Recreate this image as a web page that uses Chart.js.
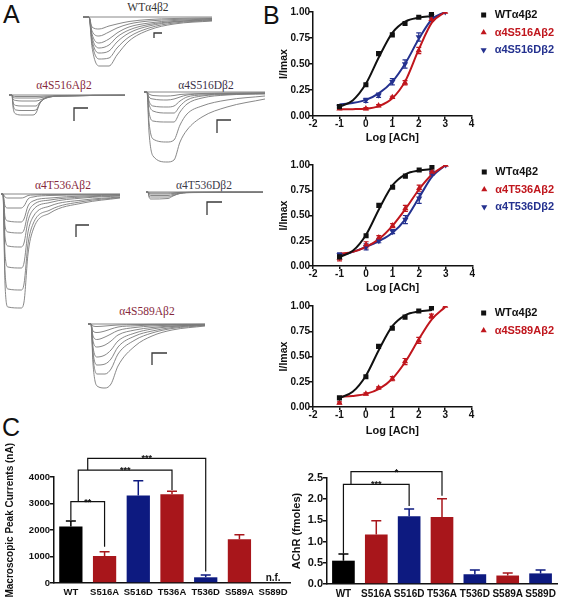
<!DOCTYPE html>
<html>
<head>
<meta charset="utf-8">
<title>α4β2 phosphosite mutants</title>
<script src="https://cdn.jsdelivr.net/npm/chart.js@4.4.1/dist/chart.umd.min.js"></script>
<style>
  html, body { margin: 0; padding: 0; background: #fff; }
  body { position: relative; width: 564px; height: 600px; overflow: hidden; font-family: "Liberation Sans", Arial, sans-serif; }
  canvas { position: absolute; }
  .letter { position: absolute; font-size: 25px; line-height: 25px; color: #111; }
  .tlab { position: absolute; font-family: "Liberation Serif", "Times New Roman", serif; font-size: 11.5px; line-height: 12px; white-space: nowrap; transform: translateX(-50%); }
  .mut { color: #86283c; }
</style>
</head>
<body>
<div class="letter" style="left:3px;top:2px">A</div>
<div class="letter" style="left:263px;top:3px">B</div>
<div class="letter" style="left:2px;top:415px">C</div>

<div class="tlab" style="left:148px;top:1px;color:#333">WTα4β2</div>
<div class="tlab mut" style="left:64px;top:79px">α4S516Aβ2</div>
<div class="tlab" style="left:206px;top:79px;color:#3b3148">α4S516Dβ2</div>
<div class="tlab mut" style="left:63px;top:179px">α4T536Aβ2</div>
<div class="tlab" style="left:204px;top:179px;color:#3b3b4a">α4T536Dβ2</div>
<div class="tlab mut" style="left:147px;top:305px">α4S589Aβ2</div>

<script>
/* ==========================================================================
   Data
   ========================================================================== */

// --- A: macroscopic current traces (time, current; inward = negative) ---
const wtTime = [-6, 0, 3, 10, 20, 28, 40, 60, 85, 123];
const wtTraces = [
  [0, 0, 0, 0, 0, 0, 0, 0, 0, 0],
  [0, 0, -10, -12, -9, -7, -4.5, -2.5, -1.5, -1],
  [0, 0, -14, -19, -15, -11, -7, -4, -2.5, -1.5],
  [0, 0, -17, -26, -22, -16, -10, -6, -3.5, -2],
  [0, 0, -20, -31, -28, -20, -13, -7.5, -4.5, -2.5],
  [0, 0, -23, -36, -34, -25, -16, -9, -5, -3],
  [0, 0, -26, -42, -41, -31, -20, -11, -6, -3.5],
  [0, 0, -30, -49, -49, -38, -24, -13, -7, -4]
];

const s516aTime = [-3, 0, 1, 4, 10, 20, 24, 28, 34, 50, 113];
const s516aTraces = [
  [0, 0, 0, 0, 0, 0, 0, 0, 0, 0, 0],
  [0, 0, -1, -1.5, -1.5, -1.5, -1.5, -1.4, -1, -0.5, -0.2],
  [0, 0, -2, -3, -3, -3, -3, -2.8, -1.8, -0.8, -0.2],
  [0, 0, -4, -5.5, -6, -6, -6, -5, -2.5, -1, -0.3],
  [0, 0, -7, -10.5, -11, -11, -11, -7, -3, -1, -0.3],
  [0, 0, -9, -15, -15.5, -15.5, -15, -8, -3, -1, -0.3],
  [0, 0, -12, -19, -20, -20, -18, -8, -3, -1, -0.3]
];

const s516dTime = [-3, 0, 2, 6, 20, 27, 33, 40, 55, 80, 118];
const s516dTraces = [
  [0, 0, 0, 0, 0, 0, 0, 0, 0, 0, 0],
  [0, 0, -2, -3.5, -4, -3.5, -2.5, -2, -1.5, -1, -0.8],
  [0, 0, -5, -7, -8, -7, -5, -3, -2, -1.5, -1],
  [0, 0, -9, -14, -15, -14, -9, -5, -3, -2, -1.2],
  [0, 0, -12, -19, -21, -21, -14, -8, -4, -2.5, -1.5],
  [0, 0, -20, -29, -30, -30, -20, -12, -6, -3, -2],
  [0, 0, -30, -47, -50, -48, -33, -22, -14, -8, -4],
  [0, 0, -40, -64, -70, -68, -50, -38, -25, -15, -7]
];

const t536aTime = [-2, 0, 2, 5, 18, 21, 25, 30, 47, 80, 117];
const t536aTraces = [
  [0, 0, 0, 0, 0, 0, 0, 0, 0, 0, 0],
  [0, 0, -3, -4, -4, -3.5, -1.5, -1, -0.6, -0.4, -0.3],
  [0, 0, -12, -14, -14, -12, -5, -3, -1.5, -1, -0.5],
  [0, 0, -23, -27, -28, -25, -12, -7, -4, -2, -1],
  [0, 0, -32, -38, -39, -36, -19, -11, -6, -3, -1.5],
  [0, 0, -43, -52, -53, -49, -27, -16, -8.5, -4, -2],
  [0, 0, -60, -73, -74, -69, -38, -23, -12, -6, -3],
  [0, 0, -78, -95, -96, -90, -50, -30, -16, -7.5, -3.5],
  [0, 0, -90, -113, -114, -108, -60, -36, -19, -9, -4]
];

const t536dTime = [-2, 0, 1, 3, 20, 25, 32, 45, 115];
const t536dTraces = [
  [0, 0, 0, 0, 0, 0, 0, 0, 0],
  [0, 0, -0.7, -1, -1, -0.8, -0.4, -0.2, -0.1],
  [0, 0, -1.5, -2, -2, -1.5, -0.8, -0.3, -0.1],
  [0, 0, -2.5, -3.5, -3.5, -2.5, -1, -0.4, -0.2],
  [0, 0, -4, -5, -5, -3.5, -1.3, -0.5, -0.2],
  [0, 0, -5, -7, -6.5, -4, -1.5, -0.6, -0.2]
];

const s589aTime = [-3, 0, 2, 6, 14, 20, 27, 44, 61, 81, 114];
const s589aTraces = [
  [0, 0, 0, 0, 0, 0, 0, 0, 0, 0, 0],
  [0, 0, -2, -2.5, -2, -1.5, -1, -0.6, -0.4, -0.3, -0.2],
  [0, 0, -7, -8.5, -7, -5, -3, -1.8, -1, -0.7, -0.4],
  [0, 0, -12, -15.5, -13, -10, -6.5, -3.5, -2, -1.2, -0.6],
  [0, 0, -17, -23, -21, -17, -11, -6, -3.5, -2, -0.8],
  [0, 0, -23, -33, -31, -26, -17, -9, -5, -2.5, -1],
  [0, 0, -28, -41, -40, -35, -23, -12, -7, -3.5, -1.2],
  [0, 0, -33, -50, -50, -45, -30, -16, -9, -4.5, -1.5],
  [0, 0, -40, -62, -64, -60, -42, -22, -12, -6, -2]
];

// --- B: ACh concentration-response (log ACh, I/Imax) ---
const logACh = [-1, 0, 0.48, 1, 1.48, 2, 2.48, 3];
const fitLog = [-1, -0.5, 0, 0.5, 1, 1.5, 2, 2.5, 3];

const wtResp = [0.09, 0.30, 0.60, 0.78, 0.89, 0.95, 0.98, null];
const wtErr  = [0, 0, 0, 0, 0, 0, 0, null];
const wtFit  = [0.09, 0.15, 0.31, 0.57, 0.80, 0.91, 0.945, 0.96, null];

const s516aResp = [0.07, 0.07, 0.10, 0.18, 0.32, 0.63, 0.93, 1.00];
const s516aErr  = [0, 0.01, 0.01, 0.01, 0.02, 0.03, 0.02, 0];
const s516aFit  = [0.065, 0.066, 0.07, 0.095, 0.17, 0.34, 0.64, 0.90, 1.00];

const s516dResp = [0.09, 0.15, 0.20, 0.33, 0.50, 0.76, 0.96, 1.00];
const s516dErr  = [0.01, 0.02, 0.02, 0.03, 0.04, 0.04, 0.02, 0];
const s516dFit  = [0.11, 0.125, 0.155, 0.22, 0.33, 0.51, 0.74, 0.93, 1.00];

const t536aResp = [0.08, 0.21, 0.28, 0.40, 0.57, 0.77, 0.93, 1.00];
const t536aErr  = [0.03, 0.03, 0.02, 0.02, 0.03, 0.03, 0.02, 0];
const t536aFit  = [0.12, 0.14, 0.19, 0.27, 0.40, 0.57, 0.76, 0.91, 1.00];

const t536dResp = [0.11, 0.19, 0.25, 0.34, 0.46, 0.67, 0.92, 1.00];
const t536dErr  = [0.02, 0.03, 0.02, 0.02, 0.04, 0.05, 0.02, 0];
const t536dFit  = [0.10, 0.14, 0.19, 0.25, 0.33, 0.47, 0.68, 0.89, 1.00];

const s589aResp = [0.04, 0.13, 0.19, 0.28, 0.45, 0.66, 0.90, 1.00];
const s589aErr  = [0.01, 0.01, 0.01, 0.02, 0.03, 0.03, 0.02, 0];
const s589aFit  = [0.10, 0.11, 0.13, 0.18, 0.28, 0.45, 0.67, 0.87, 0.99];

// --- C: peak currents and surface receptor ---
const mutants = ['WT', 'S516A', 'S516D', 'T536A', 'T536D', 'S589A', 'S589D'];
const peakCurrent    = [2130, 1020, 3300, 3350, 215, 1650, null];   // S589D: n.f.
const peakCurrentErr = [210, 160, 560, 110, 85, 170, null];
const achrFmol = [0.55, 1.17, 1.60, 1.58, 0.23, 0.20, 0.25];
const achrErr  = [0.16, 0.32, 0.17, 0.43, 0.10, 0.06, 0.08];

/* ==========================================================================
   Styles / helpers
   ========================================================================== */
const SANS = '"Liberation Sans", Arial, sans-serif';
const INK = '#111';
const RED = '#c0161d', BLUE = '#24318f';
const BAR_RED = '#a8161b', BAR_BLUE = '#0d1a80';
const barColors = ['#000', BAR_RED, BAR_BLUE, BAR_RED, BAR_BLUE, BAR_RED, BAR_BLUE];

Chart.defaults.font.family = SANS;
Chart.defaults.color = INK;

function makeCanvas(box) {
  const cv = document.createElement('canvas');
  cv.width = box.w; cv.height = box.h;
  cv.style.left = box.left + 'px'; cv.style.top = box.top + 'px';
  cv.style.width = box.w + 'px'; cv.style.height = box.h + 'px';
  document.body.appendChild(cv);
  return cv;
}

const baseOpts = { responsive: false, animation: false, devicePixelRatio: 1, events: [] };

/* --- A: trace panels (scale: 1 unit = 1 px, x0/base = page spot of t=0 / zero current) --- */
function traceChart(time, traces, box) {
  const xmin = box.left - box.x0, ymax = box.base - box.top;
  const datasets = traces.map(tr => ({
    data: time.map((t, i) => ({ x: t, y: tr[i] })),
    showLine: true, pointRadius: 0, borderColor: '#7b7b7b', borderWidth: 0.9,
    cubicInterpolationMode: 'monotone', clip: false
  }));
  // L-shaped calibration bar
  datasets.push({
    data: box.bar.map(p => ({ x: p[0], y: p[1] })),
    showLine: true, pointRadius: 0, borderColor: '#3a3a3a', borderWidth: 1.3, tension: 0, clip: false
  });
  new Chart(makeCanvas(box), {
    type: 'scatter',
    data: { datasets },
    options: { ...baseOpts, layout: { padding: 0 },
      plugins: { legend: { display: false }, tooltip: { enabled: false } },
      scales: {
        x: { type: 'linear', display: false, min: xmin, max: xmin + box.w },
        y: { type: 'linear', display: false, min: ymax - box.h, max: ymax }
      } }
  });
}

traceChart(wtTime, wtTraces,       { left: 80, top: 10, w: 140, h: 65, x0: 89, base: 17, bar: [[73, -16], [65, -16], [65, -21]] });
traceChart(s516aTime, s516aTraces, { left: 5, top: 88, w: 125, h: 40, x0: 12, base: 95, bar: [[76, -13], [62, -13], [62, -26]] });
traceChart(s516dTime, s516dTraces, { left: 140, top: 85, w: 130, h: 85, x0: 147, base: 92, bar: [[84, -28], [70, -28], [70, -41]] });
traceChart(t536aTime, t536aTraces, { left: 0, top: 188, w: 125, h: 130, x0: 3, base: 194, bar: [[86, -31], [73, -31], [73, -43]] });
traceChart(t536dTime, t536dTraces, { left: 142, top: 186, w: 125, h: 35, x0: 148, base: 192, bar: [[74, -10], [59, -10], [59, -23]] });
traceChart(s589aTime, s589aTraces, { left: 85, top: 318, w: 125, h: 75, x0: 91, base: 324, bar: [[76, -29], [61, -29], [61, -41]] });

/* --- B: concentration-response curves --- */
const doseErrorBars = {
  id: 'doseErrorBars',
  beforeDatasetsDraw(chart) {
    const { ctx, scales: { y } } = chart;
    chart.data.datasets.forEach((ds, di) => {
      if (!ds.errors) return;
      const meta = chart.getDatasetMeta(di);
      ctx.save();
      ctx.strokeStyle = ds.borderColor; ctx.lineWidth = 1.2;
      meta.data.forEach((pt, i) => {
        const v = ds.data[i].y, e = ds.errors[i];
        if (v === null || !e) return;
        const y1 = y.getPixelForValue(v - e), y2 = y.getPixelForValue(v + e);
        ctx.beginPath();
        ctx.moveTo(pt.x, y1); ctx.lineTo(pt.x, y2);
        ctx.moveTo(pt.x - 2.5, y1); ctx.lineTo(pt.x + 2.5, y1);
        ctx.moveTo(pt.x - 2.5, y2); ctx.lineTo(pt.x + 2.5, y2);
        ctx.stroke();
      });
      ctx.restore();
    });
  }
};

function doseChart(box, series) {
  const markers = series.map(s => ({
    label: s.label, isMarker: true, errors: s.err,
    data: logACh.map((x, i) => ({ x, y: s.resp[i] })),
    showLine: false, pointStyle: s.shape, pointRotation: s.rot || 0, pointRadius: 3.6,
    backgroundColor: s.color, borderColor: s.color, pointBorderWidth: 0
  }));
  const fits = series.map(s => ({
    label: s.label + ' fit',
    data: fitLog.map((x, i) => ({ x, y: s.fit[i] })),
    showLine: true, pointRadius: 0, borderColor: s.color, borderWidth: 2,
    cubicInterpolationMode: 'monotone'
  }));
  const axisGrid = len => ({ drawOnChartArea: false, drawTicks: true, tickLength: len, color: INK, lineWidth: 1.5 });
  new Chart(makeCanvas(box), {
    type: 'scatter',
    data: { datasets: markers.concat(fits) },
    options: { ...baseOpts,
      layout: { padding: 0 },
      plugins: {
        tooltip: { enabled: false },
        // empty spacer above the plot area only, so the legend keeps its own top
        title: { display: true, text: ' ', fullSize: false, font: { size: 1, lineHeight: 1 }, padding: { top: box.gap - 1, bottom: 0 } },
        legend: {
          position: 'right', align: 'start', maxWidth: 94,
          labels: {
            usePointStyle: true, boxHeight: 5, padding: 6.5,
            font: { size: 11, weight: 'bold' },
            filter: (item, data) => data.datasets[item.datasetIndex].isMarker,
            generateLabels: chart => Chart.defaults.plugins.legend.labels.generateLabels(chart)
              .map(it => ({ ...it, fontColor: chart.data.datasets[it.datasetIndex].borderColor }))
          }
        }
      },
      scales: {
        x: { type: 'linear', min: -2, max: 4,
          afterFit: s => { s.height = box.xh; },
          ticks: { stepSize: 1, font: { size: 10, weight: 'bold' }, color: INK, padding: -1, maxRotation: 0 },
          grid: axisGrid(3), border: { color: INK, width: 1.5 },
          title: { display: true, text: 'Log [ACh]', font: { size: 11, weight: 'bold' }, color: INK, padding: 0 } },
        y: { type: 'linear', min: 0, max: 1,
          afterFit: s => { s.width = 37; },
          ticks: { stepSize: 0.25, callback: v => v.toFixed(2), font: { size: 10, weight: 'bold' }, color: INK, padding: -1 },
          grid: axisGrid(4), border: { color: INK, width: 1.5 },
          title: { display: true, text: 'I/Imax', font: { size: 10.5, weight: 'bold' }, color: INK, padding: { top: 2, bottom: 0 } } }
      } },
    plugins: [doseErrorBars]
  });
}

const wtSeries = { label: 'WTα4β2', color: INK, shape: 'rect', resp: wtResp, err: wtErr, fit: wtFit };

doseChart({ left: 276, top: 3, w: 288, h: 142, gap: 9, xh: 29 }, [
  wtSeries,
  { label: 'α4S516Aβ2', color: RED, shape: 'triangle', resp: s516aResp, err: s516aErr, fit: s516aFit },
  { label: 'α4S516Dβ2', color: BLUE, shape: 'triangle', rot: 180, resp: s516dResp, err: s516dErr, fit: s516dFit }
]);
doseChart({ left: 276, top: 160, w: 288, h: 135, gap: 2, xh: 29 }, [
  wtSeries,
  { label: 'α4T536Aβ2', color: RED, shape: 'triangle', resp: t536aResp, err: t536aErr, fit: t536aFit },
  { label: 'α4T536Dβ2', color: BLUE, shape: 'triangle', rot: 180, resp: t536dResp, err: t536dErr, fit: t536dFit }
]);
doseChart({ left: 276, top: 301, w: 288, h: 137, gap: 4, xh: 31 }, [
  wtSeries,
  { label: 'α4S589Aβ2', color: RED, shape: 'triangle', resp: s589aResp, err: s589aErr, fit: s589aFit }
]);

/* --- C: bar charts with SEM and significance brackets --- */
const barErrors = {
  id: 'barErrors',
  afterDatasetsDraw(chart) {
    const { ctx, scales: { y } } = chart;
    const ds = chart.data.datasets[0];
    const meta = chart.getDatasetMeta(0);
    ctx.save();
    ctx.lineWidth = 1.5;
    meta.data.forEach((bar, i) => {
      const v = ds.data[i], e = ds.errors[i];
      if (v === null) {
        ctx.fillStyle = INK; ctx.font = 'bold 10px ' + SANS;
        ctx.textAlign = 'center'; ctx.textBaseline = 'alphabetic';
        ctx.fillText('n.f.', chart.scales.x.getPixelForValue(i), y.getPixelForValue(0) - 2);
        return;
      }
      const y1 = y.getPixelForValue(v), y2 = y.getPixelForValue(v + e);
      ctx.strokeStyle = ds.backgroundColor[i];
      ctx.beginPath();
      ctx.moveTo(bar.x, y1); ctx.lineTo(bar.x, y2);
      ctx.moveTo(bar.x - 5, y2); ctx.lineTo(bar.x + 5, y2);
      ctx.stroke();
    });
    ctx.restore();
  }
};

function bracketPlugin(items) {
  return {
    id: 'brackets',
    afterDatasetsDraw(chart) {
      const { ctx, scales: { x, y } } = chart;
      ctx.save();
      ctx.strokeStyle = INK; ctx.fillStyle = INK; ctx.lineWidth = 1.2;
      ctx.font = 'bold 9px ' + SANS; ctx.textAlign = 'center'; ctx.textBaseline = 'alphabetic';
      items.forEach(b => {
        const x1 = x.getPixelForValue(b.from), x2 = x.getPixelForValue(b.to);
        const yl = y.getPixelForValue(b.level);
        ctx.beginPath();
        ctx.moveTo(x1, y.getPixelForValue(b.left)); ctx.lineTo(x1, yl);
        ctx.lineTo(x2, yl); ctx.lineTo(x2, y.getPixelForValue(b.right));
        ctx.stroke();
        ctx.fillText(b.label, (x1 + x2) / 2, yl + 3);
      });
      ctx.restore();
    }
  };
}

function barChart(box, values, errs, sig, ax) {
  new Chart(makeCanvas(box), {
    type: 'bar',
    data: { labels: mutants, datasets: [{ data: values, errors: errs, backgroundColor: barColors,
      borderWidth: 0, barPercentage: 0.69, categoryPercentage: 1 }] },
    options: { ...baseOpts,
      layout: { padding: box.pad },
      plugins: { legend: { display: false }, tooltip: { enabled: false } },
      scales: {
        x: { afterFit: s => { s.height = box.xh; },
          grid: { display: true, drawOnChartArea: false, drawTicks: false },
          border: { color: INK, width: 1.5 },
          ticks: { font: { size: ax.xFont, weight: 'bold' }, color: INK, padding: 4, maxRotation: 0, autoSkip: false } },
        y: { min: 0, max: ax.max,
          afterFit: s => { s.width = box.yw; },
          ticks: { stepSize: ax.step, callback: ax.fmt, font: { size: ax.yFont, weight: 'bold' }, color: INK, padding: 0 },
          grid: { drawOnChartArea: false, drawTicks: true, tickLength: 4, color: INK, lineWidth: 1.5 },
          border: { color: INK, width: 1.5 },
          title: { display: true, text: ax.title, font: { size: ax.titleFont, weight: 'bold' }, color: INK, padding: { top: ax.titlePad, bottom: 0 } } }
      } },
    plugins: [barErrors, bracketPlugin(sig)]
  });
}

// leading no-break spaces lift the rotated title so it ends where the original does
barChart({ left: 0, top: 440, w: 295, h: 160, yw: 54, xh: 17, pad: { top: 37, right: 5, bottom: 0, left: 0 } },
  peakCurrent, peakCurrentErr,
  [
    { from: 0, to: 1, level: 3070, left: 2380, right: 1370, label: '**' },
    { from: 0.22, to: 3, level: 4260, left: 3070, right: 3510, label: '***' },
    { from: 0.5, to: 4, level: 4700, left: 4260, right: 430, label: '***' }
  ],
  { max: 4000, step: 1000, fmt: v => String(v), title: '\u00a0'.repeat(7) + 'Macroscopic Peak Currents (nA)',
    titleFont: 10, titlePad: 4, xFont: 9.5, yFont: 9.5 });

barChart({ left: 290, top: 440, w: 274, h: 160, yw: 37, xh: 16, pad: { top: 38, right: 7, bottom: 0, left: 0 } },
  achrFmol, achrErr,
  [
    { from: 0, to: 2, level: 2.35, left: 0.72, right: 1.84, label: '***' },
    { from: 0.23, to: 3, level: 2.65, left: 2.35, right: 2.08, label: '*' }
  ],
  { max: 2.5, step: 0.5, fmt: v => v.toFixed(1), title: 'AChR (fmoles)', titleFont: 11, titlePad: 0, xFont: 10, yFont: 11 });
</script>
</body>
</html>
